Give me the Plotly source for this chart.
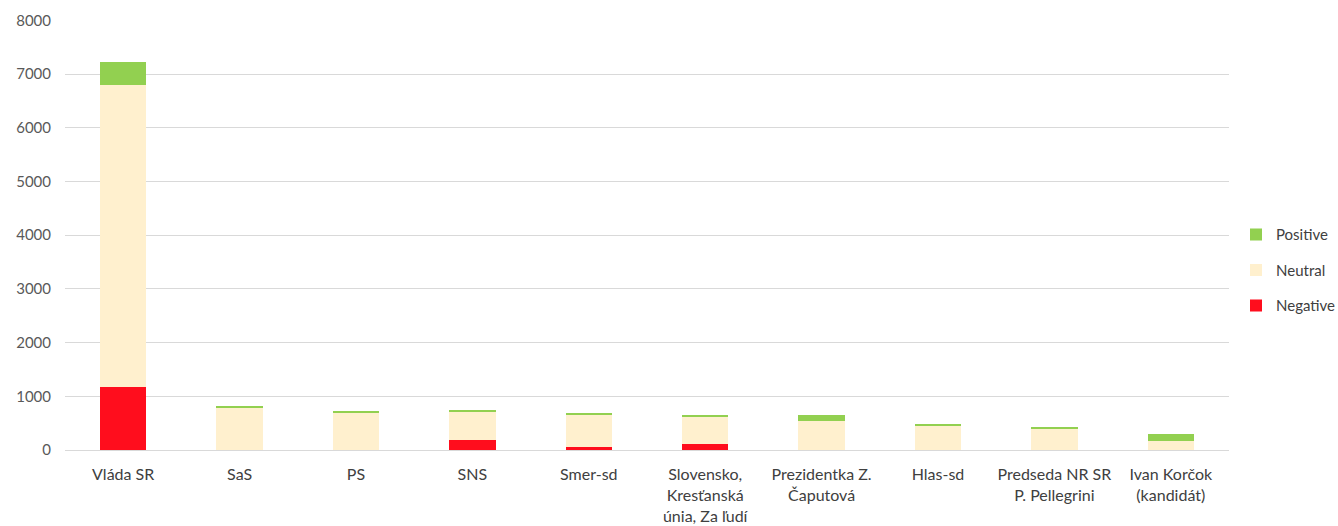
import plotly.graph_objects as go

categories = ["Vláda SR", "SaS", "PS", "SNS", "Smer-sd",
              "Slovensko,<br>Kresťanská<br>únia, Za ľudí",
              "Prezidentka Z.<br>Čaputová", "Hlas-sd",
              "Predseda NR SR<br>P. Pellegrini", "Ivan Korčok<br>(kandidát)"]
negative = [1180, 0, 0, 190, 65, 115, 0, 0, 0, 0]
neutral = [5610, 795, 695, 525, 595, 505, 545, 450, 400, 160]
positive = [440, 27, 28, 32, 32, 32, 105, 30, 30, 130]

colors = {"Negative": "#FF0D1D", "Neutral": "#FFF0CE", "Positive": "#92D050"}
ranks = {"Positive": 1, "Neutral": 2, "Negative": 3}

fig = go.Figure()
for name, vals in [("Negative", negative), ("Neutral", neutral), ("Positive", positive)]:
    fig.add_trace(go.Bar(
        x=categories, y=vals, name=name, marker_color=colors[name],
        marker_line_width=0, legendgroup=name, legendrank=ranks[name],
    ))

W, H = 1338, 526
L, R, T, B = 65, W - 1229, 20, 76

fig.update_layout(
    barmode="stack",
    bargap=0.6,
    width=W, height=H,
    margin=dict(l=L, r=R, t=T, b=B, autoexpand=False),
    plot_bgcolor="white", paper_bgcolor="white",
    font=dict(family="Lato", size=15, color="#404040"),
    legend=dict(traceorder="grouped",
                x=(1236 - L) / (1229 - L), xanchor="left",
                y=0.418, yanchor="middle",
                tracegroupgap=13, font=dict(size=15, color="#404040"),
                itemwidth=30),
    yaxis=dict(range=[0, 8008], dtick=1000, showgrid=True, gridcolor="#D9D9D9",
               gridwidth=1, zeroline=True, zerolinecolor="#D9D9D9", zerolinewidth=1,
               tickfont=dict(size=15, color="#595959"), ticks="",
               ticklabelstandoff=13, tickformat="d", showline=False),
    xaxis=dict(tickfont=dict(size=16, color="#404040"), showline=False, ticks="",
               ticklabelstandoff=13),
)

fig.write_html("out.html")
